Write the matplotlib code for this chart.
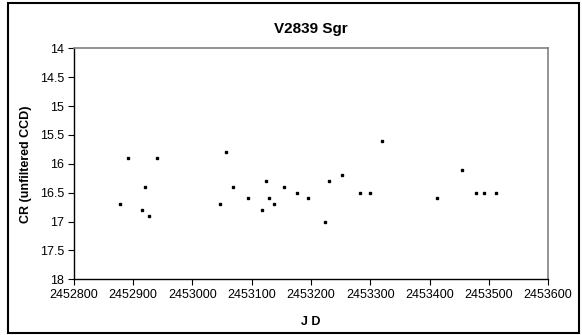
import matplotlib.pyplot as plt
from matplotlib.patches import Rectangle

plt.rcParams['font.family'] = ['Liberation Sans', 'DejaVu Sans']

# Julian dates and magnitudes
jd = [2452878, 2452892, 2452914, 2452920, 2452927, 2452940,
      2453047, 2453057, 2453069, 2453093, 2453118, 2453124,
      2453129, 2453137, 2453154, 2453177, 2453195, 2453224,
      2453231, 2453252, 2453283, 2453299, 2453320, 2453413,
      2453455, 2453478, 2453492, 2453513]
mag = [16.7, 15.9, 16.8, 16.4, 16.9, 15.9,
       16.7, 15.8, 16.4, 16.6, 16.8, 16.3,
       16.6, 16.7, 16.4, 16.5, 16.6, 17.0,
       16.3, 16.2, 16.5, 16.5, 15.6, 16.6,
       16.1, 16.5, 16.5, 16.5]

x_ticks = list(range(2452800, 2453601, 100))
y_ticks = [14, 14.5, 15, 15.5, 16, 16.5, 17, 17.5, 18]

fig = plt.figure(figsize=(5.82, 3.35), dpi=100)
ax = fig.add_axes([0.1271, 0.1663, 0.8145, 0.6895])

ax.plot(jd, mag, 's', color='black', markersize=1.8, linestyle='none')

ax.set_xlim(2452800, 2453600)
ax.set_ylim(18, 14)
ax.set_xticks(x_ticks)
ax.set_xticklabels([str(t) for t in x_ticks])
ax.set_yticks(y_ticks)
ax.set_yticklabels(['%g' % t for t in y_ticks])
ax.tick_params(direction='out', length=4, width=0.8, labelsize=9, pad=3)

for s in ['left', 'bottom']:
    ax.spines[s].set_color('black')
    ax.spines[s].set_linewidth(1.0)
for s in ['top', 'right']:
    ax.spines[s].set_color('#808080')
    ax.spines[s].set_linewidth(1.2)

ax.set_title('V2839 Sgr', fontsize=11, fontweight='bold', pad=11)
ax.set_xlabel('J D', fontsize=9, fontweight='bold', labelpad=11)
ax.set_ylabel('CR (unfiltered CCD)', fontsize=9, fontweight='bold', labelpad=6)

# outer chart frame
fig.patches.append(Rectangle((7.5 / 582, 2 / 335), 571 / 582, 330 / 335,
                             transform=fig.transFigure, fill=False,
                             edgecolor='black', linewidth=1.5))

fig.savefig('out.png', dpi=100)
